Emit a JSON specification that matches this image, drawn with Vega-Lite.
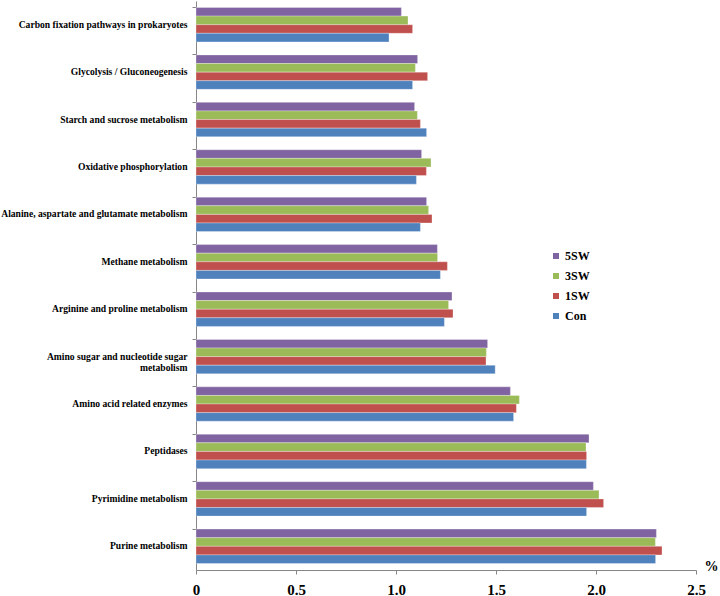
{
  "$schema": "https://vega.github.io/schema/vega-lite/v6.json",
  "width": 500,
  "height": 569,
  "autosize": {"type": "none"},
  "padding": {"left": 196, "top": 1, "right": 24, "bottom": 26},
  "background": "white",
  "config": {"view": {"stroke": null}},
  "data": {"values": [
    {"pathway": "Carbon fixation pathways in prokaryotes", "group": "5SW", "value": 1.027},
    {"pathway": "Carbon fixation pathways in prokaryotes", "group": "3SW", "value": 1.060},
    {"pathway": "Carbon fixation pathways in prokaryotes", "group": "1SW", "value": 1.083},
    {"pathway": "Carbon fixation pathways in prokaryotes", "group": "Con", "value": 0.965},
    {"pathway": "Glycolysis / Gluconeogenesis", "group": "5SW", "value": 1.108},
    {"pathway": "Glycolysis / Gluconeogenesis", "group": "3SW", "value": 1.097},
    {"pathway": "Glycolysis / Gluconeogenesis", "group": "1SW", "value": 1.158},
    {"pathway": "Glycolysis / Gluconeogenesis", "group": "Con", "value": 1.083},
    {"pathway": "Starch and sucrose metabolism", "group": "5SW", "value": 1.093},
    {"pathway": "Starch and sucrose metabolism", "group": "3SW", "value": 1.107},
    {"pathway": "Starch and sucrose metabolism", "group": "1SW", "value": 1.122},
    {"pathway": "Starch and sucrose metabolism", "group": "Con", "value": 1.153},
    {"pathway": "Oxidative phosphorylation", "group": "5SW", "value": 1.128},
    {"pathway": "Oxidative phosphorylation", "group": "3SW", "value": 1.175},
    {"pathway": "Oxidative phosphorylation", "group": "1SW", "value": 1.152},
    {"pathway": "Oxidative phosphorylation", "group": "Con", "value": 1.102},
    {"pathway": "Alanine, aspartate and glutamate metabolism", "group": "5SW", "value": 1.153},
    {"pathway": "Alanine, aspartate and glutamate metabolism", "group": "3SW", "value": 1.163},
    {"pathway": "Alanine, aspartate and glutamate metabolism", "group": "1SW", "value": 1.180},
    {"pathway": "Alanine, aspartate and glutamate metabolism", "group": "Con", "value": 1.122},
    {"pathway": "Methane metabolism", "group": "5SW", "value": 1.207},
    {"pathway": "Methane metabolism", "group": "3SW", "value": 1.208},
    {"pathway": "Methane metabolism", "group": "1SW", "value": 1.257},
    {"pathway": "Methane metabolism", "group": "Con", "value": 1.222},
    {"pathway": "Arginine and proline metabolism", "group": "5SW", "value": 1.280},
    {"pathway": "Arginine and proline metabolism", "group": "3SW", "value": 1.263},
    {"pathway": "Arginine and proline metabolism", "group": "1SW", "value": 1.285},
    {"pathway": "Arginine and proline metabolism", "group": "Con", "value": 1.242},
    {"pathway": "Amino sugar and nucleotide sugar metabolism", "group": "5SW", "value": 1.458},
    {"pathway": "Amino sugar and nucleotide sugar metabolism", "group": "3SW", "value": 1.452},
    {"pathway": "Amino sugar and nucleotide sugar metabolism", "group": "1SW", "value": 1.450},
    {"pathway": "Amino sugar and nucleotide sugar metabolism", "group": "Con", "value": 1.496},
    {"pathway": "Amino acid related enzymes", "group": "5SW", "value": 1.572},
    {"pathway": "Amino acid related enzymes", "group": "3SW", "value": 1.617},
    {"pathway": "Amino acid related enzymes", "group": "1SW", "value": 1.602},
    {"pathway": "Amino acid related enzymes", "group": "Con", "value": 1.588},
    {"pathway": "Peptidases", "group": "5SW", "value": 1.965},
    {"pathway": "Peptidases", "group": "3SW", "value": 1.950},
    {"pathway": "Peptidases", "group": "1SW", "value": 1.953},
    {"pathway": "Peptidases", "group": "Con", "value": 1.952},
    {"pathway": "Pyrimidine metabolism", "group": "5SW", "value": 1.987},
    {"pathway": "Pyrimidine metabolism", "group": "3SW", "value": 2.015},
    {"pathway": "Pyrimidine metabolism", "group": "1SW", "value": 2.038},
    {"pathway": "Pyrimidine metabolism", "group": "Con", "value": 1.953},
    {"pathway": "Purine metabolism", "group": "5SW", "value": 2.302},
    {"pathway": "Purine metabolism", "group": "3SW", "value": 2.297},
    {"pathway": "Purine metabolism", "group": "1SW", "value": 2.330},
    {"pathway": "Purine metabolism", "group": "Con", "value": 2.298}
  ]},
  "mark": {"type": "bar", "stroke": "white", "strokeWidth": 0.5, "strokeOpacity": 0.6},
  "encoding": {
    "y": {
      "field": "pathway",
      "type": "nominal",
      "sort": ["Carbon fixation pathways in prokaryotes", "Glycolysis / Gluconeogenesis", "Starch and sucrose metabolism", "Oxidative phosphorylation", "Alanine, aspartate and glutamate metabolism", "Methane metabolism", "Arginine and proline metabolism", "Amino sugar and nucleotide sugar metabolism", "Amino acid related enzymes", "Peptidases", "Pyrimidine metabolism", "Purine metabolism"],
      "scale": {"paddingInner": 0.275, "paddingOuter": 0.1375},
      "axis": {
        "title": null,
        "bandPosition": 0,
        "domainColor": "#868686",
        "tickColor": "#868686",
        "tickSize": 4,
        "labelFont": "Liberation Serif",
        "labelFontWeight": "bold",
        "labelFontSize": 9.6,
        "labelColor": "black",
        "labelPadding": 5,
        "labelLimit": 400,
        "labelExpr": "datum.value == 'Amino sugar and nucleotide sugar metabolism' ? ['Amino sugar and nucleotide sugar', 'metabolism\u00a0\u00a0\u00a0\u00a0\u00a0\u00a0\u00a0\u00a0\u00a0\u00a0\u00a0\u00a0\u00a0\u00a0\u00a0\u00a0'] : datum.value"
      }
    },
    "yOffset": {"field": "group", "type": "nominal", "sort": ["5SW", "3SW", "1SW", "Con"], "scale": {"paddingInner": 0, "paddingOuter": 0}},
    "x": {
      "field": "value",
      "type": "quantitative",
      "scale": {"domain": [0, 2.5], "nice": false},
      "axis": {
        "title": "%",
        "titleFont": "Liberation Serif",
        "titleFontWeight": "bold",
        "titleFontSize": 14,
        "titleColor": "black",
        "titleX": 515,
        "titleY": 3,
        "titleAlign": "center",
        "titleBaseline": "bottom",
        "values": [0, 0.5, 1, 1.5, 2, 2.5],
        "grid": false,
        "domainColor": "#868686",
        "tickColor": "#868686",
        "tickSize": 4,
        "labelFont": "Liberation Serif",
        "labelFontWeight": "bold",
        "labelFontSize": 15,
        "labelColor": "black",
        "labelPadding": 8,
        "labelFlush": false,
        "labelExpr": "datum.value == 0 ? '0' : format(datum.value, '.1f')"
      }
    },
    "color": {
      "field": "group",
      "type": "nominal",
      "sort": ["5SW", "3SW", "1SW", "Con"],
      "scale": {"domain": ["5SW", "3SW", "1SW", "Con"], "range": ["#8064A2", "#9BBB59", "#C0504D", "#4F81BD"]},
      "legend": {
        "title": null,
        "orient": "none",
        "legendX": 354,
        "legendY": 249,
        "symbolType": "square",
        "symbolSize": 36,
        "symbolStrokeWidth": 0,
        "labelFont": "Liberation Serif",
        "labelFontWeight": "bold",
        "labelFontSize": 12,
        "labelColor": "black",
        "labelOffset": 3,
        "rowPadding": 8
      }
    }
  }
}
